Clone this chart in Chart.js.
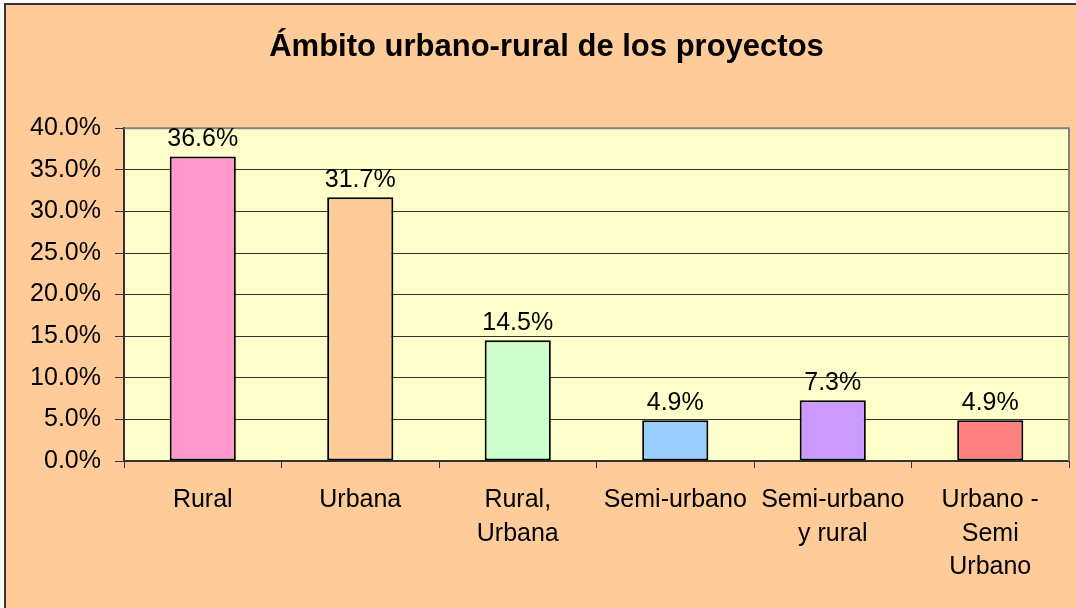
<!DOCTYPE html>
<html>
<head>
<meta charset="utf-8">
<script src="https://cdn.jsdelivr.net/npm/chart.js@4/dist/chart.umd.min.js"></script>
<style>
  html, body { margin: 0; padding: 0; background: #fff; }
  #wrap { width: 1076px; height: 608px; }
</style>
</head>
<body>
<div id="wrap"><canvas id="chart"></canvas></div>
<script>
const categories = [
  ['Rural'],
  ['Urbana'],
  ['Rural,', 'Urbana'],
  ['Semi-urbano'],
  ['Semi-urbano', 'y rural'],
  ['Urbano -', 'Semi', 'Urbano']
];
const shares = [36.6, 31.7, 14.5, 4.9, 7.3, 4.9];
const barColors = ['#FF99CC', '#FFCC99', '#CCFFCC', '#99CCFF', '#CC99FF', '#FF8080'];
const yTicks = [0, 5, 10, 15, 20, 25, 30, 35, 40];

const FONT = '"Liberation Sans", Arial, sans-serif';

// frame + plot background
const backdrop = {
  id: 'backdrop',
  beforeDraw(chart) {
    const { ctx, chartArea: a, width, height } = chart;
    ctx.save();
    ctx.fillStyle = '#FFCC99';
    ctx.fillRect(5, 4, width - 5, height - 4);
    ctx.strokeStyle = '#333';
    ctx.lineWidth = 2;
    ctx.beginPath();
    ctx.moveTo(5, height);
    ctx.lineTo(5, 4);
    ctx.lineTo(width, 4);
    ctx.stroke();
    ctx.fillStyle = '#FFFFCC';
    ctx.fillRect(a.left, a.top, a.right - a.left, a.bottom - a.top);
    ctx.restore();
  },
  beforeDatasetsDraw(chart) {
    const { ctx, chartArea: a } = chart;
    ctx.save();
    ctx.strokeStyle = '#808080';
    ctx.lineWidth = 2;
    ctx.beginPath();
    ctx.moveTo(a.left, a.top);
    ctx.lineTo(a.right, a.top);
    ctx.lineTo(a.right, a.bottom);
    ctx.stroke();
    ctx.restore();
  }
};

// value labels above the bars
const valueLabels = {
  id: 'valueLabels',
  afterDatasetsDraw(chart) {
    const { ctx } = chart;
    const meta = chart.getDatasetMeta(0);
    ctx.save();
    ctx.font = '25px ' + FONT;
    ctx.fillStyle = '#000';
    ctx.textAlign = 'center';
    ctx.textBaseline = 'alphabetic';
    meta.data.forEach((bar, i) => {
      ctx.fillText(shares[i].toFixed(1) + '%', bar.x, bar.y - 10);
    });
    ctx.restore();
  }
};

new Chart(document.getElementById('chart'), {
  type: 'bar',
  data: {
    labels: categories,
    datasets: [{
      data: shares,
      backgroundColor: barColors,
      borderColor: '#000',
      borderWidth: 2,
      borderSkipped: false,
      barPercentage: 0.42,
      categoryPercentage: 1
    }]
  },
  options: {
    responsive: true,
    maintainAspectRatio: false,
    animation: false,
    layout: { padding: { left: 24, right: 7, top: 0, bottom: 0 } },
    plugins: {
      legend: { display: false },
      tooltip: { enabled: false },
      title: {
        display: true,
        text: 'Ámbito urbano-rural de los proyectos',
        color: '#000',
        font: { family: FONT, size: 31, weight: 'bold', lineHeight: 1.2 },
        padding: { top: 29, bottom: 62 }
      }
    },
    scales: {
      x: {
        grid: { drawOnChartArea: false, drawTicks: true, tickLength: 7, color: '#333', offset: true },
        border: { color: '#333', width: 2 },
        ticks: {
          color: '#000',
          font: { family: FONT, size: 25, lineHeight: 1.35 },
          padding: 15,
          maxRotation: 0,
          autoSkip: false
        },
        afterFit: s => { s.height = 147; }
      },
      y: {
        min: 0,
        max: 40,
        afterBuildTicks: s => { s.ticks = yTicks.map(v => ({ value: v })); },
        grid: { color: '#333', tickLength: 9, lineWidth: 1 },
        border: { color: '#333', width: 2 },
        ticks: {
          color: '#000',
          font: { family: FONT, size: 25 },
          padding: 14,
          callback: v => v.toFixed(1) + '%'
        },
        afterFit: s => { s.width = 100; }
      }
    }
  },
  plugins: [backdrop, valueLabels]
});
</script>
</body>
</html>
